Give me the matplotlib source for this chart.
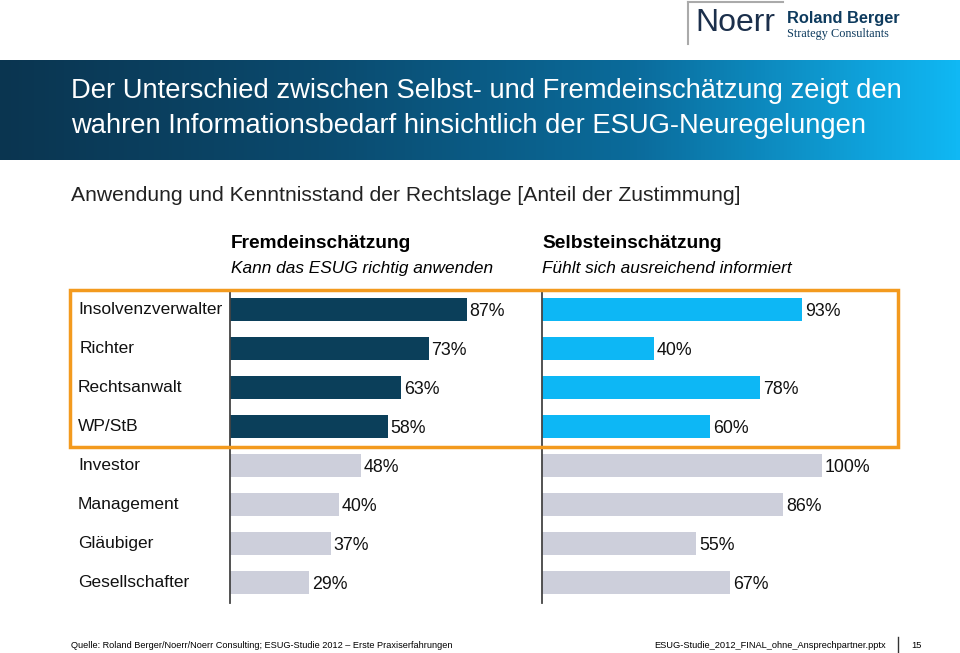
import numpy as np
import matplotlib
matplotlib.use("Agg")
import matplotlib.pyplot as plt
from matplotlib.colors import LinearSegmentedColormap
from matplotlib.patches import Rectangle
from matplotlib.lines import Line2D
import matplotlib.transforms as mtransforms

plt.rcParams["font.family"] = ["Liberation Sans", "DejaVu Sans"]

# data
categories = ["Insolvenzverwalter", "Richter", "Rechtsanwalt", "WP/StB",
              "Investor", "Management", "Gläubiger", "Gesellschafter"]
fremd = [87, 73, 63, 58, 48, 40, 37, 29]
selbst = [93, 40, 78, 60, 100, 86, 55, 67]
highlighted = [True, True, True, True, False, False, False, False]

W, H = 960, 653
fig = plt.figure(figsize=(W / 100, H / 100), dpi=100)


def fx(px):
    return px / W


def fy(py):
    return 1 - py / H


# header band with gradient
hdr = fig.add_axes([0, fy(160), 1, 100 / H])
grad = LinearSegmentedColormap.from_list("hdr", ["#0a3550", "#0a4a6e", "#0b6c9c", "#10b8f4"])
hdr.imshow(np.linspace(0, 1, 256)[None, :], aspect="auto", cmap=grad, extent=[0, 1, 0, 1])
hdr.set_axis_off()
fig.text(fx(71), fy(91), "Der Unterschied zwischen Selbst- und Fremdeinschätzung zeigt den",
         color="white", fontsize=19.7, va="center")
fig.text(fx(71), fy(126), "wahren Informationsbedarf hinsichtlich der ESUG-Neuregelungen",
         color="white", fontsize=19.7, va="center")

# logo
fig.add_artist(Line2D([fx(688), fx(688)], [fy(2), fy(44)], color="#aaaaaa", lw=1.5))
fig.add_artist(Line2D([fx(688), fx(783)], [fy(2), fy(2)], color="#aaaaaa", lw=1.5))
fig.text(fx(695), fy(23), "Noerr", color="#1b2f4b", fontsize=23, va="center")
fig.text(fx(787), fy(18), "Roland Berger", color="#0e3b5e", fontsize=11.8, va="center",
         weight="bold")
fig.text(fx(787), fy(34), "Strategy Consultants", color="#0e3b5e", fontsize=8.8, va="center",
         family=["Liberation Serif", "DejaVu Serif"])

# subtitle and column headers
fig.text(fx(71), fy(195), "Anwendung und Kenntnisstand der Rechtslage [Anteil der Zustimmung]",
         color="#222222", fontsize=15.2, va="center")
fig.text(fx(231), fy(244), "Fremdeinschätzung", fontsize=13.8, weight="bold", va="center")
fig.text(fx(231), fy(268), "Kann das ESUG richtig anwenden", fontsize=12.4, style="italic", va="center")
fig.text(fx(542), fy(244), "Selbsteinschätzung", fontsize=13.8, weight="bold", va="center")
fig.text(fx(542), fy(268), "Fühlt sich ausreichend informiert", fontsize=12.4, style="italic", va="center")

# bar panels
y = np.arange(len(categories))
top, bottom = 292, 603
ax1 = fig.add_axes([fx(230), fy(bottom), (502 - 230) / W, (bottom - top) / H])
ax2 = fig.add_axes([fx(542), fy(bottom), (822 - 542) / W, (bottom - top) / H])

for ax, vals, col in [(ax1, fremd, "#0b3f5a"), (ax2, selbst, "#0db7f5")]:
    colors = [col if h else "#cdcfdb" for h in highlighted]
    ax.barh(y, vals, height=0.59, color=colors)
    for yi, v in zip(y, vals):
        ax.text(v + 1.1, yi + 0.05, f"{v}%", va="center", ha="left", fontsize=12.8, color="#111111")
    ax.set_xlim(0, 100)
    ax.set_ylim(7.53, -0.46)
    ax.set_facecolor("none")
    for s in ["top", "right", "bottom"]:
        ax.spines[s].set_visible(False)
    ax.spines["left"].set_color("#444444")
    ax.spines["left"].set_linewidth(1.3)
    ax.set_xticks([])
    ax.set_yticks([])

# category labels
tr = mtransforms.blended_transform_factory(fig.transFigure, ax1.transData)
for yi, c in zip(y, categories):
    x0 = 80 if c == "Richter" else 78
    ax1.text(fx(x0), yi, c, transform=tr, va="center", ha="left", fontsize=12.5,
             color="#111111", clip_on=False)

# orange highlight box
fig.add_artist(Rectangle((fx(70), fy(447)), (898 - 70) / W, (447 - 290) / H,
                         transform=fig.transFigure, fill=False, edgecolor="#f39a1e", lw=2.5))

# footer
fig.text(fx(71), fy(645), "Quelle: Roland Berger/Noerr/Noerr Consulting; ESUG-Studie 2012 – Erste Praxiserfahrungen",
         fontsize=6.6, va="center")
fig.text(fx(886), fy(646), "ESUG-Studie_2012_FINAL_ohne_Ansprechpartner.pptx", fontsize=6.7,
         va="center", ha="right")
fig.add_artist(Line2D([fx(898), fx(898)], [fy(637), fy(653)], color="#333333", lw=1))
fig.text(fx(911), fy(646), "15", fontsize=6.7, va="center")

fig.savefig("out.png", dpi=100)
